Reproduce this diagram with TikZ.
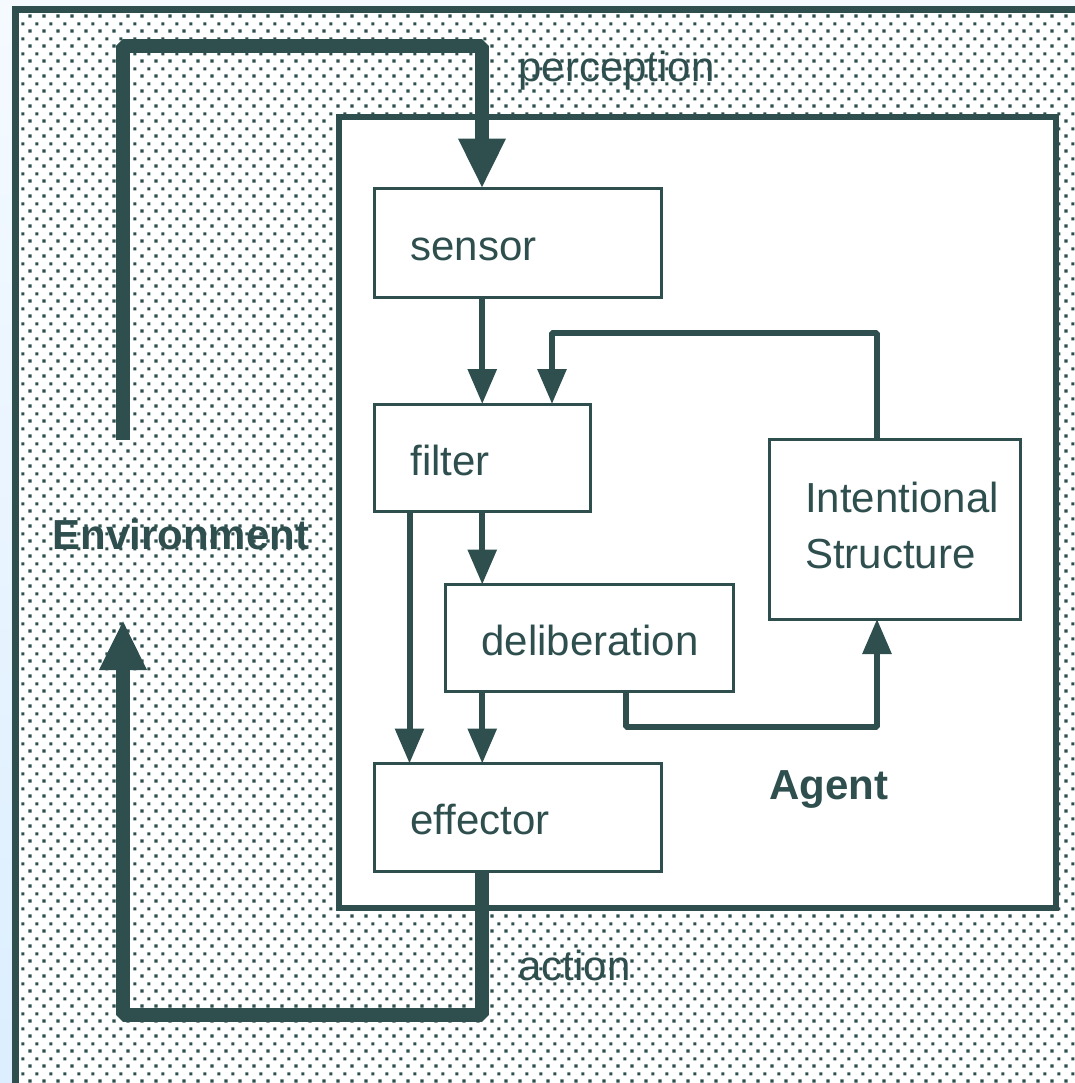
\documentclass[tikz,border=0pt]{standalone}
\usepackage{fontspec}
\setmainfont{Liberation Sans}
\definecolor{slate}{HTML}{2F4F4F}
\definecolor{skytop}{HTML}{F5FAFF}
\definecolor{skybot}{HTML}{DCEEFF}
\usetikzlibrary{arrows.meta,calc,patterns}
\hyphenpenalty=10000

% staggered square dots for the environment field
\pgfdeclarepatternformonly{envdots}{\pgfqpoint{0pt}{0pt}}{\pgfqpoint{7.2pt}{7.3pt}}{\pgfqpoint{7.2pt}{7.3pt}}{%
  \pgfpathrectangle{\pgfqpoint{0.2pt}{0.2pt}}{\pgfqpoint{1.65pt}{1.65pt}}%
  \pgfpathrectangle{\pgfqpoint{3.8pt}{3.85pt}}{\pgfqpoint{1.65pt}{1.65pt}}%
  \pgfusepath{fill}}

\newcommand{\diagfont}{\fontsize{21pt}{28pt}\selectfont}

\tikzset{
  module/.style={
    rectangle, draw=slate, line width=1.5pt, fill=white,
    font=\diagfont, text=slate,
    inner xsep=18pt, inner ysep=0pt, outer sep=0pt,
    align=left
  },
  oneline/.style={text height=17.5pt, text depth=0pt},
  lbl/.style={font=\diagfont, text=slate, inner sep=0pt, anchor=base west},
  flow/.style={-{Triangle[width=14pt,length=17.5pt]}, line width=3pt, draw=slate, line join=bevel},
  bigflow/.style={-{Triangle[width=22pt,length=25pt]}, line width=7pt, draw=slate, line join=bevel},
}

\begin{document}
\begin{tikzpicture}[x=0.5pt, y=-0.5pt]
  \useasboundingbox (0,0) rectangle (1075,1083);
  \clip (0,0) rectangle (1075,1083);

  % Environment field
  \fill[top color=skytop, bottom color=skybot] (0,0) rectangle (1075,1083);
  \fill[white] (15.5,9.5) rectangle (1110,1110);
  \fill[pattern=envdots, pattern color=slate] (15.5,9.5) rectangle (1110,1110);
  \draw[slate, line width=3.5pt] (15.5,9.5) rectangle (1110,1110);

  % Agent
  \node[draw=slate, line width=3pt, fill=white, outer sep=0pt,
        minimum width=358.5pt, minimum height=395.5pt]
    (agent) at (697.5,512.5) {};

  \node[module, oneline, minimum width=143.25pt, minimum height=54.25pt,
        text width=107.25pt]
    (sensor) at (517.75,242.75) {sensor};

  \node[module, oneline, minimum width=107.75pt, minimum height=53.75pt,
        text width=71.75pt]
    (filter) at (482.25,457.75) {filter};

  \node[module, oneline, minimum width=143.75pt, minimum height=53.25pt,
        text width=107.75pt]
    (delib) at (589.25,637.75) {deliberation};

  \node[module, oneline, minimum width=143.25pt, minimum height=53.75pt,
        text width=107.25pt]
    (effector) at (517.75,817.25) {effector};

  \node[module, minimum width=125.5pt, minimum height=90pt,
        text width=89.5pt, text height=15.5pt, text depth=32.5pt]
    (intent) at (894.5,529) {Intentional\\Structure};

  % Ports
  \coordinate (envtop) at (123,440);
  \coordinate (envbot) at (123,620);
  \coordinate (ptop) at (482,45.5);
  \coordinate (fb) at ($(filter.south west)+(35,0)$);
  \coordinate (itop) at ($(intent.north west)+(108,0)$);
  \coordinate (ibot) at ($(intent.south west)+(108,0)$);
  \coordinate (dout) at ($(delib.south west)+(180,0)$);

  % Perception and action loops
  \draw[bigflow] (envtop) |- (ptop) -- (ptop |- sensor.north);
  \draw[bigflow] (filter.south |- effector.south) -- ++(0,144) -| (envbot);

  % Arrows
  \draw[flow] (filter.north |- sensor.south) -- (filter.north);
  \draw[flow] (filter.south) -- (filter.south |- delib.north);
  \draw[flow] (filter.south |- delib.south) -- (filter.south |- effector.north);
  \draw[flow] (fb) -- (fb |- effector.north);
  \draw[flow] (dout) -- ++(0,36) -| (ibot);
  \draw[flow] (itop) -- ++(0,-106) -| ($(filter.north west)+(177.5,0)$);

  % Labels
  \node[lbl] (perception) at (518,81.5) {perception};
  \node[lbl] (action) at (518,980) {action};
  \node[lbl, font=\diagfont\bfseries] (environment) at (52,549) {Environment};
  \node[lbl, font=\diagfont\bfseries] (agentname) at (769,799) {Agent};

\end{tikzpicture}
\end{document}
